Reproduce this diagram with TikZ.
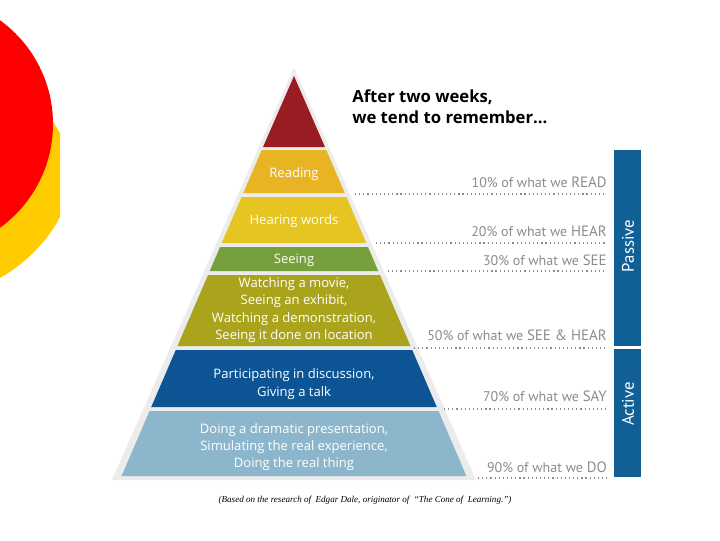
\documentclass[tikz,border=0pt]{standalone}
\usepackage{fontspec}
\setmainfont{PT Sans}
\newfontfamily\bandfont{Open Sans}
\newfontfamily\capfont{Liberation Serif}
\definecolor{circred}{RGB}{255,0,0}
\definecolor{circyel}{RGB}{255,204,0}
\definecolor{apexc}{RGB}{152,28,34}
\definecolor{readc}{RGB}{232,180,36}
\definecolor{hearc}{RGB}{230,196,34}
\definecolor{seec}{RGB}{118,160,60}
\definecolor{watchc}{RGB}{170,164,28}
\definecolor{partc}{RGB}{12,84,148}
\definecolor{doc}{RGB}{140,182,204}
\definecolor{barc}{RGB}{16,96,150}
\definecolor{lblc}{RGB}{140,140,140}
\definecolor{edgec}{RGB}{236,236,236}
\newcommand\pyrband[3]{\fill[#3] ({294-0.43*(#1-75)},#1) -- ({294+0.43*(#1-75)},#1) -- ({294+0.43*(#2-75)},#2) -- ({294-0.43*(#2-75)},#2) -- cycle;}
\newcommand\capword[1]{{\fontsize{11.2pt}{12pt}\selectfont #1}}
\begin{document}
\begin{tikzpicture}[x=0.75pt,y=-0.75pt,
  bandtxt/.style={text=white,align=center,font=\bandfont\fontsize{9.8pt}{13pt}\selectfont,inner sep=0pt},
  lbl/.style={text=lblc,font=\fontsize{10.5pt}{12pt}\selectfont,inner sep=0pt,anchor=base east},
  dotline/.style={draw=lblc,line width=0.9pt,dash pattern=on 0.9pt off 2.2pt},
  bartxt/.style={text=white,rotate=90,font=\fontsize{12.6pt}{14pt}\selectfont,inner sep=0pt}]
\useasboundingbox (0,0) rectangle (720,540);
\fill[white] (0,0) rectangle (720,540);
% decorative circles
\begin{scope}
\clip (0,0) rectangle (720,540);
\fill[circyel] (40,100) -- (60,133) -- (60,217) .. controls (46,244) and (22,266) .. (-2,279) -- (-2,100) -- cycle;
\fill[circred] (-75,124) circle[radius=128];
\end{scope}
% pyramid outline
\fill[edgec] (294,68) -- (476,480) -- (112,480) -- cycle;
% bands
\fill[apexc] (294,76) -- ({294+0.43*72},147) -- ({294-0.43*72},147) -- cycle;
\pyrband{150}{193}{readc}
\pyrband{197}{243}{hearc}
\pyrband{247}{271}{seec}
\pyrband{275}{346}{watchc}
\pyrband{350}{407}{partc}
\pyrband{411}{476}{doc}
% band texts
\node[bandtxt] (tread) at (294,174) {Reading};
\node[bandtxt] (thear) at (294,221) {Hearing words};
\node[bandtxt] (tsee) at (294,260) {Seeing};
\node[bandtxt] (twatch) at (294,310) {Watching a movie,\\Seeing an exhibit,\\Watching a demonstration,\\Seeing it done on location};
\node[bandtxt] (tpart) at (294,384) {Participating in discussion,\\Giving a talk};
\node[bandtxt] (tdo) at (294,447) {Doing a dramatic presentation,\\Simulating the real experience,\\Doing the real thing};
% title
\node[anchor=north west,align=left,inner sep=0pt,font=\bandfont\bfseries\fontsize{12.5pt}{16pt}\selectfont] (title) at (352,89) {After two weeks,\\we tend to remember...};
% right labels
\node[lbl] (l10) at (607,187) {10\% of what we \capword{READ}};
\node[lbl] (l20) at (607,236) {20\% of what we \capword{HEAR}};
\node[lbl] (l30) at (607,265) {30\% of what we \capword{SEE}};
\node[lbl] (l50) at (607,340) {50\% of what we \capword{SEE \& HEAR}};
\node[lbl] (l70) at (607,401) {70\% of what we \capword{SAY}};
\node[lbl] (l90) at (607,472) {90\% of what we \capword{DO}};
% dotted lines
\coordinate (d10a) at (355,194); \coordinate (d10b) at (607,194);
\coordinate (d20a) at (376,243); \coordinate (d20b) at (607,243);
\coordinate (d30a) at (388,271); \coordinate (d30b) at (607,271);
\coordinate (d50a) at (414,348); \coordinate (d50b) at (607,348);
\coordinate (d70a) at (444,409); \coordinate (d70b) at (607,409);
\coordinate (d90a) at (478,478); \coordinate (d90b) at (607,478);
\draw[dotline] (d10a) -- (d10b);
\draw[dotline] (d20a) -- (d20b);
\draw[dotline] (d30a) -- (d30b);
\draw[dotline] (d50a) -- (d50b);
\draw[dotline] (d70a) -- (d70b);
\draw[dotline] (d90a) -- (d90b);
% side bar
\fill[barc] (614,150) rectangle (641,346);
\fill[barc] (614,349) rectangle (641,477);
\node[bartxt] (passive) at (628,246) {Passive};
\node[bartxt] (active) at (628,404) {Active};
% caption
\node[inner sep=0pt,font=\capfont\itshape\fontsize{6.8pt}{8pt}\selectfont] (cap) at (365,500) {(Based on the research of\ \ Edgar Dale, originator of\ \ “The Cone of\ \ Learning.”)};
\end{tikzpicture}
\end{document}
